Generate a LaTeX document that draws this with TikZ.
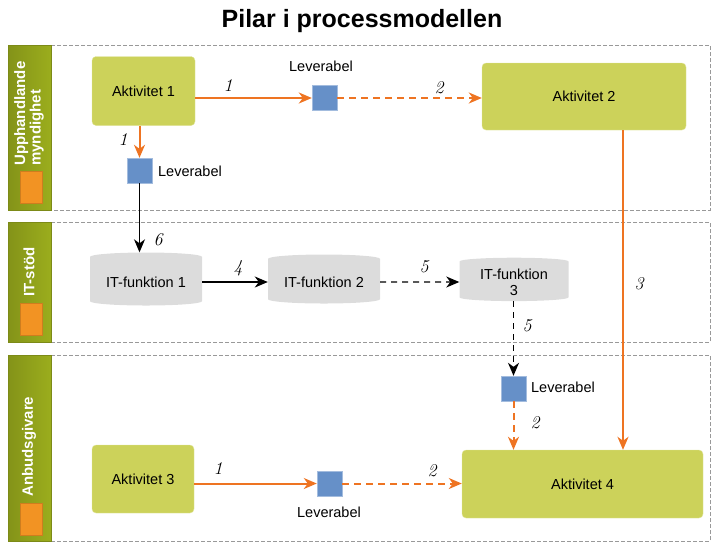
\documentclass[tikz,border=0pt]{standalone}
\usepackage{fontspec}
\setmainfont{Liberation Sans}
\newfontfamily\handfont{Latin Modern Roman}
\usetikzlibrary{arrows.meta,shapes.geometric}

\definecolor{aktgreen}{HTML}{CCD25A}
\definecolor{lanegreen}{HTML}{9BAD1D}
\definecolor{levblue}{HTML}{6690C8}
\definecolor{itgray}{HTML}{DCDCDC}
\definecolor{pilorange}{HTML}{EE7422}
\definecolor{markorange}{HTML}{F29323}

\begin{document}
\begin{tikzpicture}[x=1pt,y=-1pt,
  aktivitet/.style={rectangle,rounded corners=4pt,fill=aktgreen,draw=aktgreen!60!white,
    font=\fontsize{14.5}{16}\selectfont},
  leverabel/.style={rectangle,fill=levblue,draw=levblue!60!white,minimum size=25pt,inner sep=0pt},
  itfunktion/.style={cylinder,shape border rotate=90,aspect=0.1,fill=itgray,
    font=\fontsize{14.5}{16}\selectfont,align=center},
  levtext/.style={font=\fontsize{14.5}{16}\selectfont},
  siffra/.style={font=\handfont\itshape\fontsize{18}{18}\selectfont},
  lanehead/.style={draw=lanegreen!80!black,left color=lanegreen!85!black,right color=lanegreen},
  lanebox/.style={draw=gray!80,dash pattern=on 4pt off 2pt},
  lanetext/.style={rotate=90,anchor=west,align=left,text=white,inner sep=0pt,
    font=\bfseries\fontsize{15}{15.5}\selectfont},
  solidpil/.style={line width=2pt,pilorange,-{Stealth[length=13pt,width=11pt,inset=4pt]}},
  streckpil/.style={line width=2pt,pilorange,dash pattern=on 7pt off 5pt,-{Stealth[length=13pt,width=11pt,inset=4pt]}},
  svartpil/.style={line width=1.4pt,black,-{Stealth[length=13pt,width=11pt,inset=4pt]}}]

\useasboundingbox (0,0) rectangle (727,558);

\node[font=\bfseries\fontsize{25}{27}\selectfont] (titel) at (362,21) {Pilar i processmodellen};

\draw[lanebox] (51,45) rectangle (710,210);
\draw[lanebox] (51,222) rectangle (710,342);
\draw[lanebox] (51,355) rectangle (710,541);

\draw[lanehead] (8,45) rectangle (51,210);
\draw[lanehead] (8,222) rectangle (51,342);
\draw[lanehead] (8,355) rectangle (51,541);

\fill[markorange,draw=markorange!85!black] (20,171) rectangle (42,203);
\fill[markorange,draw=markorange!85!black] (20,303) rectangle (42,335);
\fill[markorange,draw=markorange!85!black] (20,503) rectangle (42,535);

\node[lanetext] (lane1) at (29,166) {Upphandlande\\myndighet};
\node[lanetext] (lane2) at (29,297) {IT-stöd};
\node[lanetext] (lane3) at (29,497) {Anbudsgivare};

\node[aktivitet,minimum width=103pt,minimum height=69pt] (akt1) at (143.5,91) {Aktivitet 1};
\node[aktivitet,minimum width=204pt,minimum height=67pt] (akt2) at (584,96.5) {Aktivitet 2};
\node[aktivitet,minimum width=102pt,minimum height=68pt] (akt3) at (143,479) {Aktivitet 3};
\node[aktivitet,minimum width=241pt,minimum height=68pt] (akt4) at (582.5,484) {Aktivitet 4};

\node[leverabel] (lev1) at (324.5,98) {};
\node[leverabel] (lev2) at (139.5,170.5) {};
\node[leverabel] (lev3) at (513.5,388.5) {};
\node[leverabel] (lev4) at (329.5,483.5) {};

\node[levtext] (lev1text) at (321,66) {Leverabel};
\node[levtext] (lev2text) at (190,171) {Leverabel};
\node[levtext] (lev3text) at (563,387) {Leverabel};
\node[levtext] (lev4text) at (329,512) {Leverabel};

\node[itfunktion,minimum width=112pt,minimum height=53pt] (it1) at (146,282) {IT-funktion 1};
\node[itfunktion,minimum width=112pt,minimum height=49pt] (it2) at (324,282) {IT-funktion 2};
\node[itfunktion,minimum width=109pt,minimum height=42pt] (it3) at (514,282) {IT-funktion\\3};

\draw[solidpil] (akt1.east |- lev1.west) -- (lev1.west);
\draw[streckpil] (lev1.east) -- (lev1.east -| akt2.west);
\draw[solidpil] (akt1.south -| lev2.north) -- (lev2.north);
\draw[svartpil] (lev2.south) -- (lev2.south |- it1.north);

\draw[svartpil] (it1.east) -- (it2.west);
\draw[svartpil,dash pattern=on 6pt off 5pt] (it2.east) -- (it3.west);
\draw[svartpil,dash pattern=on 6pt off 5pt] (it3.south -| lev3.north) -- (lev3.north);

\draw[streckpil] (lev3.south) -- (lev3.south |- akt4.north);
\draw[solidpil] ([xshift=39pt]akt2.south) -- ([xshift=40.5pt]akt4.north);

\draw[solidpil] (akt3.east |- lev4.west) -- (lev4.west);
\draw[streckpil] (lev4.east) -- (lev4.east -| akt4.west);

\node[siffra] (s1) at (228,86) {1};
\node[siffra] (s2) at (439,88) {2};
\node[siffra] (s3) at (123,140) {1};
\node[siffra] (s4) at (158,240) {6};
\node[siffra] (s5) at (238,268) {4};
\node[siffra] (s6) at (424,267) {5};
\node[siffra] (s7) at (527,326) {5};
\node[siffra] (s8) at (639,284) {3};
\node[siffra] (s9) at (535,423) {2};
\node[siffra] (s10) at (218,469) {1};
\node[siffra] (s11) at (432,471) {2};

\end{tikzpicture}
\end{document}
